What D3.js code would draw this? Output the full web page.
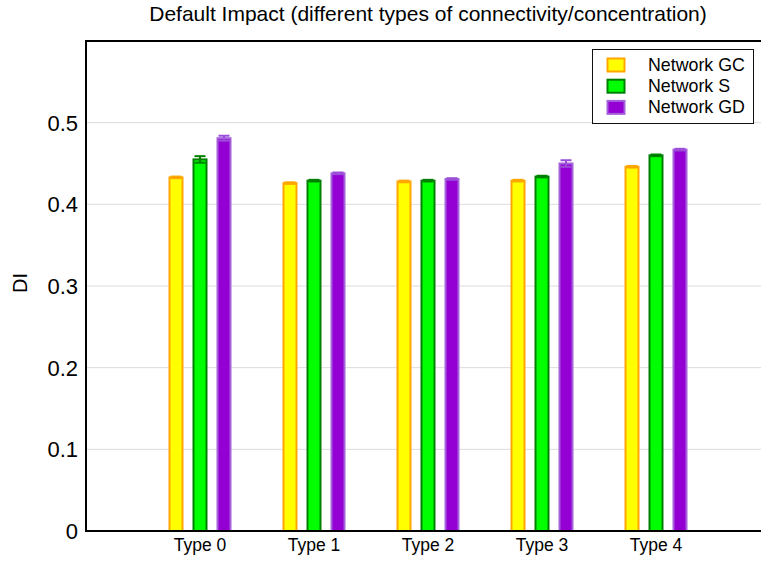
<!DOCTYPE html>
<html>
<head>
<meta charset="utf-8">
<script src="https://cdn.jsdelivr.net/npm/d3@7"></script>
<style>
  html, body { margin: 0; padding: 0; background: #fff; }
  svg { display: block; font-family: "Liberation Sans", Arial, Helvetica, sans-serif; }
</style>
</head>
<body>
<svg id="chart" width="761" height="563"></svg>
<script>
// ---- data ----
const categories = ["Type 0", "Type 1", "Type 2", "Type 3", "Type 4"];
const seriesNames = ["Network GC", "Network S", "Network GD"];
const valuesGC = [0.433, 0.426, 0.428, 0.429, 0.446];
const valuesS  = [0.455, 0.429, 0.429, 0.434, 0.460];
const valuesGD = [0.481, 0.438, 0.431, 0.450, 0.467];
const errGC = [0.001, 0.001, 0.001, 0.001, 0.001];
const errS  = [0.004, 0.001, 0.001, 0.001, 0.001];
const errGD = [0.003, 0.001, 0.001, 0.004, 0.001];
const yTicks = [0, 0.1, 0.2, 0.3, 0.4, 0.5];
const yTickLabels = ["0", "0.1", "0.2", "0.3", "0.4", "0.5"];
const titleText = "Default Impact (different types of connectivity/concentration)";
const yLabel = "DI";

const fills   = ["#ffff00", "#00ff00", "#9400d3"];
const strokes = ["#ffa500", "#008000", "#a463dc"];
const errCols = ["#ffa500", "#008000", "#9b4fd8"];

const series = [
  { name: seriesNames[0], values: valuesGC, errs: errGC },
  { name: seriesNames[1], values: valuesS,  errs: errS },
  { name: seriesNames[2], values: valuesGD, errs: errGD }
];

// ---- layout ----
const mLeft = 86, mTop = 41, mBottom = 531, mRight = 770;
const svg = d3.select("#chart");

const y = d3.scaleLinear().domain([0, 0.6]).range([mBottom, mTop]);
const x = d3.scaleLinear().domain([-1, categories.length]).range([mLeft, mRight]);
const inner = d3.scaleBand().domain(seriesNames).range([-36, 36])
  .paddingInner(0.375).paddingOuter(0.1875);

// gridlines
svg.append("g").selectAll("line").data(yTicks.filter(t => t > 0)).join("line")
  .attr("x1", mLeft).attr("x2", mRight)
  .attr("y1", d => y(d)).attr("y2", d => y(d))
  .attr("stroke", "#dcdcdc").attr("stroke-width", 1);

// bars
series.forEach((s, si) => {
  const g = svg.append("g");
  const bw = inner.bandwidth();
  g.selectAll("rect").data(s.values).join("rect")
    .attr("x", (d, i) => x(i) + inner(s.name) + 1)
    .attr("y", d => y(d))
    .attr("width", bw - 2)
    .attr("height", d => y(0) - y(d))
    .attr("fill", fills[si])
    .attr("stroke", strokes[si])
    .attr("stroke-width", 2);
  // error bars
  const cap = 5.5;
  const eg = svg.append("g").attr("stroke", errCols[si]).attr("stroke-width", 2);
  s.values.forEach((v, i) => {
    const cx = x(i) + inner(s.name) + bw / 2;
    const e = s.errs[i];
    eg.append("line").attr("x1", cx).attr("x2", cx).attr("y1", y(v + e)).attr("y2", y(v - e));
    eg.append("line").attr("x1", cx - cap).attr("x2", cx + cap).attr("y1", y(v + e)).attr("y2", y(v + e));
    eg.append("line").attr("x1", cx - cap).attr("x2", cx + cap).attr("y1", y(v - e)).attr("y2", y(v - e));
  });
});

// frame: left axis, bottom axis, top border
svg.append("line").attr("x1", mLeft).attr("x2", mLeft).attr("y1", mTop).attr("y2", mBottom)
  .attr("stroke", "#000").attr("stroke-width", 2);
svg.append("line").attr("x1", mLeft - 1).attr("x2", mRight).attr("y1", mBottom).attr("y2", mBottom)
  .attr("stroke", "#000").attr("stroke-width", 2);
svg.append("line").attr("x1", mLeft - 1).attr("x2", mRight).attr("y1", mTop).attr("y2", mTop)
  .attr("stroke", "#000").attr("stroke-width", 2);

// y tick labels
svg.append("g").selectAll("text").data(yTicks).join("text")
  .attr("x", mLeft - 8).attr("y", d => y(d))
  .attr("dy", "0.36em")
  .attr("text-anchor", "end")
  .attr("font-size", 22)
  .attr("fill", "#000")
  .text((d, i) => yTickLabels[i]);

// x tick labels
svg.append("g").selectAll("text").data(categories).join("text")
  .attr("x", (d, i) => x(i))
  .attr("y", mBottom + 20)
  .attr("text-anchor", "middle")
  .attr("font-size", 17.5)
  .attr("fill", "#000")
  .text(d => d);

// title
svg.append("text").attr("x", (mLeft + mRight) / 2).attr("y", 21)
  .attr("text-anchor", "middle").attr("font-size", 21).attr("fill", "#000")
  .text(titleText);

// y label
svg.append("text")
  .attr("transform", `translate(27, ${(mTop + mBottom) / 2 - 3}) rotate(-90)`)
  .attr("text-anchor", "middle").attr("font-size", 20).attr("fill", "#000")
  .text(yLabel);

// legend
const lg = svg.append("g").attr("transform", "translate(592,49)");
lg.append("rect").attr("x", 0.5).attr("y", 0.5).attr("width", 161).attr("height", 74)
  .attr("fill", "#fff").attr("stroke", "#111").attr("stroke-width", 1);
seriesNames.forEach((n, i) => {
  const ry = 15.5 + i * 21.2;
  lg.append("rect").attr("x", 15.5).attr("y", ry - 6).attr("width", 17).attr("height", 13)
    .attr("fill", fills[i]).attr("stroke", strokes[i]).attr("stroke-width", 2);
  lg.append("text").attr("x", 56).attr("y", ry).attr("dy", "0.35em")
    .attr("font-size", 17.8).attr("fill", "#000").text(n);
});
</script>
</body>
</html>
